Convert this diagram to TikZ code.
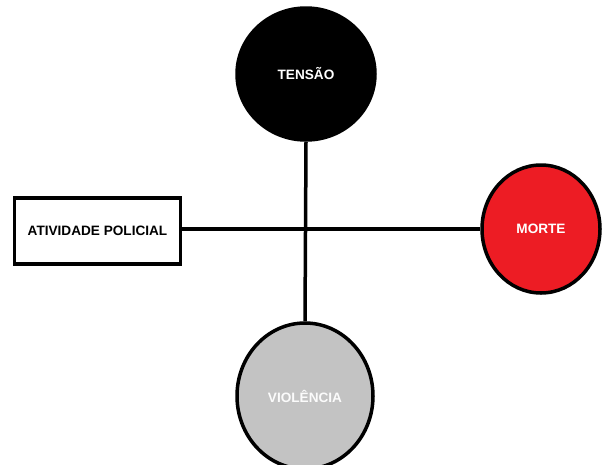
\documentclass[tikz,border=0pt]{standalone}
\usepackage{fontspec}
\setmainfont{Liberation Sans}
\usetikzlibrary{shapes.geometric}
\definecolor{mred}{HTML}{ED1C24}
\definecolor{mgray}{HTML}{C3C3C3}
\begin{document}
\begin{tikzpicture}[x=1pt,y=-1pt,
  conn/.style={line width=3.5pt},
  blob/.style={ellipse, line width=3.5pt, draw=black, font=\bfseries\fontsize{13.6}{15}\selectfont, inner sep=0pt},
  boxnode/.style={rectangle, line width=3.5pt, draw=black, fill=white, font=\bfseries\fontsize{13.6}{15}\selectfont, inner sep=0pt}]
\useasboundingbox (0,0) rectangle (602,464);
\clip (0,0) rectangle (602,464);
\fill[white] (0,0) rectangle (602,464);
\coordinate (cross) at (306,229);
\node[blob, fill=black, text=white, minimum width=138pt, minimum height=132pt] (tensao) at (306,74) {TENSÃO};
\node[blob, fill=mred, text=white, minimum width=118pt, minimum height=128pt] (morte) at (541,229) {MORTE};
\node[blob, fill=mgray, text=white!94!mgray, minimum width=136pt, minimum height=146pt] (violencia) at (305,396) {VIOLÊNCIA};
\node[boxnode, minimum width=166pt, minimum height=66pt] (policia) at (97.5,231) {ATIVIDADE POLICIAL};
\draw[conn] (tensao.south) -- (violencia.north);
\draw[conn] (policia.east |- cross) -- (morte.west |- cross);
\end{tikzpicture}
\end{document}
